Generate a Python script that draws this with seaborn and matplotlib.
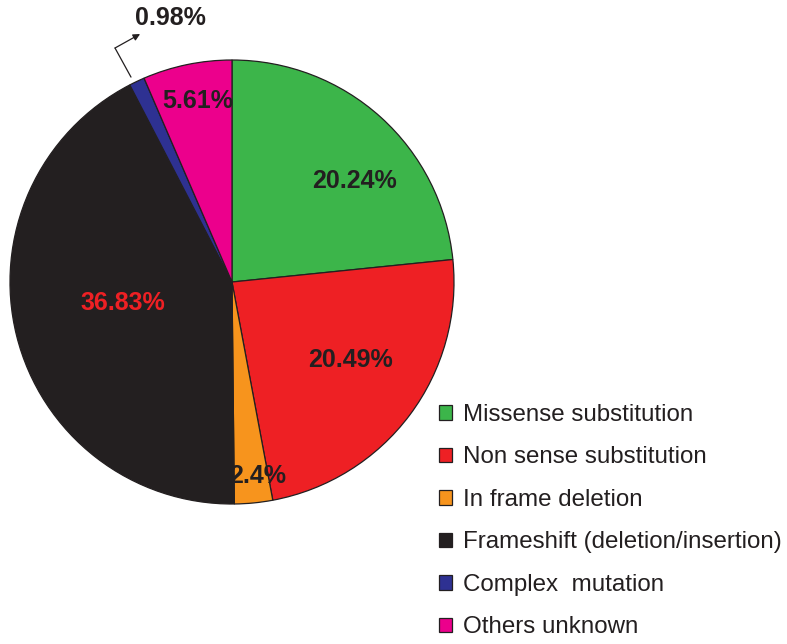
import numpy as np
import matplotlib
matplotlib.use("Agg")
import matplotlib.pyplot as plt
import seaborn as sns

categories = ["Missense substitution", "Non sense substitution", "In frame deletion",
              "Frameshift (deletion/insertion)", "Complex  mutation", "Others unknown"]
values = [20.24, 20.49, 2.4, 36.83, 0.98, 5.61]
pct_labels = ["20.24%", "20.49%", "2.4%", "36.83%", "0.98%", "5.61%"]
colors = ["#3cb54a", "#ee2024", "#f7941d", "#231f20", "#2e3192", "#ec008c"]

sns.set_theme(style="white")
plt.rcParams['font.family'] = ['Liberation Sans', 'DejaVu Sans']

fig = plt.figure(figsize=(7.87, 6.44), dpi=100)
ax = fig.add_axes([10/787, 140/644, 444/787, 444/644], frameon=False)

wedges, _ = ax.pie(values, colors=colors, startangle=90, counterclock=False,
                   radius=1, wedgeprops=dict(edgecolor="#231f20", linewidth=0.9))
ax.set_xlim(-1, 1)
ax.set_ylim(-1, 1)

# label positions (data coords), placed by hand like the original
label_pos = [(0.554, 0.455), (0.532, -0.351), (0.117, -0.874),
             (-0.491, -0.095), (-0.279, 1.189), (-0.153, 0.815)]
label_col = ["#231f20", "#231f20", "#231f20", "#ee2024", "#231f20", "#231f20"]
for txt, (x, y), c in zip(pct_labels, label_pos, label_col):
    ax.text(x, y, txt, ha="center", va="center", fontsize=18,
            fontweight="bold", color=c, clip_on=False)

# leader for the small slice
ax.plot([-0.455, -0.527], [0.923, 1.054], color="#231f20", lw=0.9, clip_on=False)
ax.annotate("", xy=(-0.414, 1.117), xytext=(-0.527, 1.054),
            arrowprops=dict(arrowstyle="-|>", color="#231f20", lw=0.9,
                            mutation_scale=10, shrinkA=0, shrinkB=0),
            annotation_clip=False)

fig.legend(wedges, categories, loc="upper left", bbox_to_anchor=(0.558, 0.373),
           frameon=False, fontsize=17.4, handlelength=0.55, handleheight=0.55,
           handletextpad=0.45, labelspacing=0.85, borderpad=0, borderaxespad=0,
           labelcolor="#231f20")

fig.savefig("out.png", dpi=100)
